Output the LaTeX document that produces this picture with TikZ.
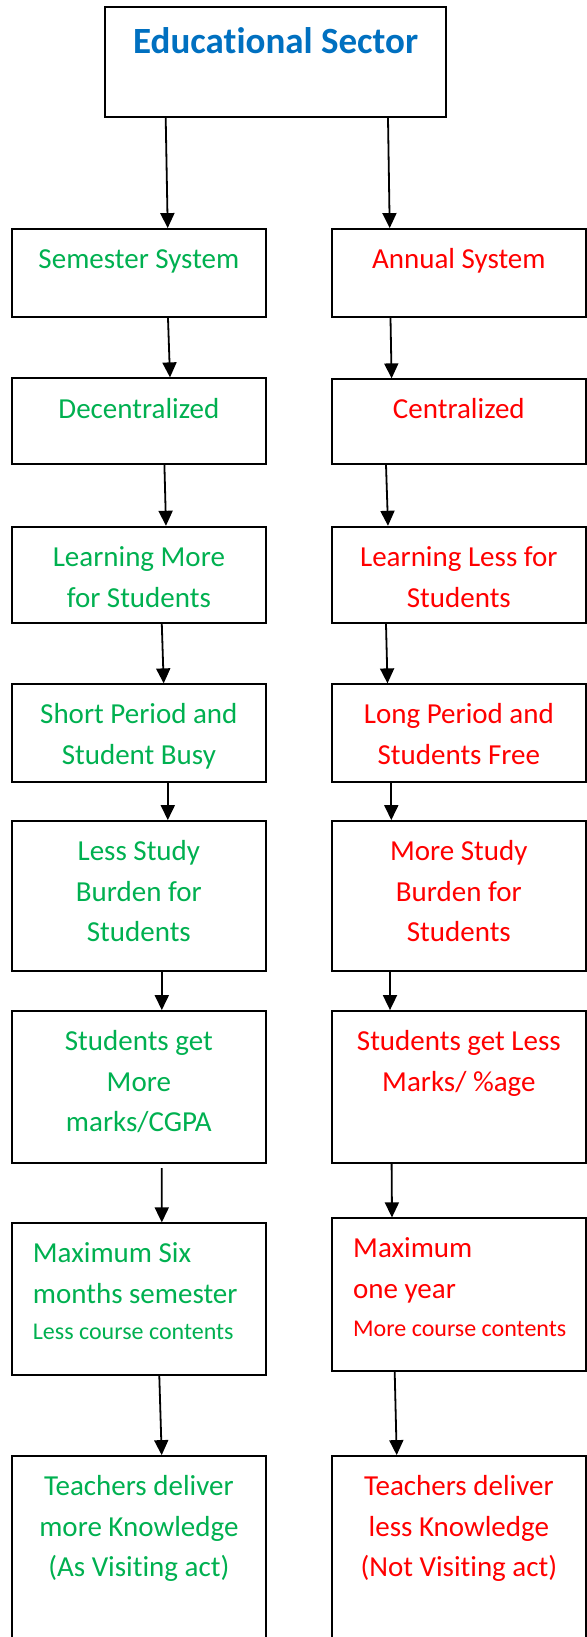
\documentclass[tikz,border=0pt]{standalone}
\usepackage{fontspec}
\setmainfont{Carlito}[Ligatures={NoCommon}]
\usetikzlibrary{arrows.meta}
\definecolor{grn}{RGB}{0,176,80}
\definecolor{rd}{RGB}{255,0,0}
\definecolor{blu}{RGB}{0,112,192}
\tikzset{
 box/.style={draw=black, line width=1.8pt, rectangle, inner sep=0pt, minimum width=254pt},
 txt/.style={inner sep=0pt, align=center, anchor=north, font=\fontsize{29}{40.8}\selectfont},
 gtxt/.style={txt, text=grn},
 rtxt/.style={txt, text=rd},
 arrowline/.style={line width=1.8pt, -{Triangle[length=15pt,width=14pt]}},
}
\newcommand\myS{\rule{0pt}{24pt}}
\newcommand\myconn[4]{\draw[arrowline] ([xshift=#2pt]#1.south) -- ([xshift=#4pt]#3.north);}
\begin{document}
\begin{tikzpicture}[x=1pt,y=-1pt]
\useasboundingbox (0,0) rectangle (586,1637);
% boxes
\node[box, minimum width=340.7pt, minimum height=110.3pt] (top) at (275.65,62.15) {};
\node[box, minimum height=88.3pt] (L1) at (138.85,273.15) {};
\node[box, minimum height=88.3pt] (R1) at (458.85,273.15) {};
\node[box, minimum height=85.4pt] (L2) at (138.85,421) {};
\node[box, minimum height=84.4pt] (R2) at (458.85,421.5) {};
\node[box, minimum height=96.6pt] (L3) at (138.85,575) {};
\node[box, minimum height=96.6pt] (R3) at (458.85,575) {};
\node[box, minimum height=97.4pt] (L4) at (138.85,733) {};
\node[box, minimum height=97.4pt] (R4) at (458.85,733) {};
\node[box, minimum height=150pt] (L5) at (138.85,896) {};
\node[box, minimum height=150pt] (R5) at (458.85,896) {};
\node[box, minimum height=152.3pt] (L6) at (138.85,1087.15) {};
\node[box, minimum height=152.3pt] (R6) at (458.85,1087.15) {};
\node[box, minimum height=152pt] (L7) at (138.85,1299.3) {};
\node[box, minimum height=153pt] (R7) at (458.85,1294.8) {};
\node[box, minimum height=189pt] (L8) at (138.85,1550.5) {};
\node[box, minimum height=189pt] (R8) at (458.85,1550.5) {};
% texts
\node[inner sep=0pt, anchor=base, text=blu, font=\fontsize{37}{44}\selectfont\bfseries] (ttop) at (275.65,53.3) {Educational Sector};
\node[gtxt] (tL1) at (138.85,244) {\myS Semester System};
\node[rtxt] (tR1) at (458.85,244) {\myS Annual System};
\node[gtxt] (tL2) at (138.85,394.3) {\myS Decentralized};
\node[rtxt] (tR2) at (458.85,394.3) {\myS Centralized};
\node[gtxt] (tL3) at (138.85,542.7) {\myS Learning More\\for Students};
\node[rtxt] (tR3) at (458.85,542.7) {\myS Learning Less for\\Students};
\node[gtxt] (tL4) at (138.85,699.3) {\myS Short Period and\\Student Busy};
\node[rtxt] (tR4) at (458.85,699.3) {\myS Long Period and\\Students Free};
\node[gtxt] (tL5) at (138.85,836) {\myS Less Study\\Burden for\\Students};
\node[rtxt] (tR5) at (458.85,836) {\myS More Study\\Burden for\\Students};
\node[gtxt] (tL6) at (138.85,1026) {\myS Students get\\More\\marks/CGPA};
\node[rtxt] (tR6) at (458.85,1026) {\myS Students get Less\\Marks/ \%age};
\node[gtxt, align=left, anchor=north west] (tL7) at (32.7,1238.3) {\myS Maximum Six\\months semester\\[-4.8pt]{\fontsize{24}{30}\selectfont Less course contents}};
\node[rtxt, align=left, anchor=north west] (tR7) at (353,1233.3) {\myS Maximum\\one year\\[-3pt]{\fontsize{24}{30}\selectfont More course contents}};
\node[gtxt] (tL8) at (138.85,1471) {\myS Teachers deliver\\more Knowledge\\(As Visiting act)};
\node[rtxt] (tR8) at (458.85,1471) {\myS Teachers deliver\\less Knowledge\\(Not Visiting act)};
% connectors
\myconn{top}{-109.95}{L1}{28.85}
\myconn{top}{112.35}{R1}{-69.15}
\myconn{L1}{29.15}{L2}{31.15}
\myconn{R1}{-68.35}{R2}{-67.25}
\myconn{L2}{25.55}{L3}{27.15}
\myconn{R2}{-72.85}{R3}{-70.85}
\myconn{L3}{22.95}{L4}{24.85}
\myconn{R3}{-72.85}{R4}{-71.35}
\myconn{L4}{28.95}{L5}{28.95}
\myconn{R4}{-67.55}{R5}{-67.55}
\myconn{L5}{22.95}{L6}{22.95}
\myconn{R5}{-68.85}{R6}{-68.85}
\draw[arrowline] ([xshift=22.85pt,yshift=-4pt]L6.south) -- ([xshift=22.95pt]L7.north);
\myconn{R6}{-67.25}{R7}{-66.85}
\myconn{L7}{20.45}{L8}{22.85}
\myconn{R7}{-64.15}{R8}{-62.15}
\end{tikzpicture}
\end{document}
